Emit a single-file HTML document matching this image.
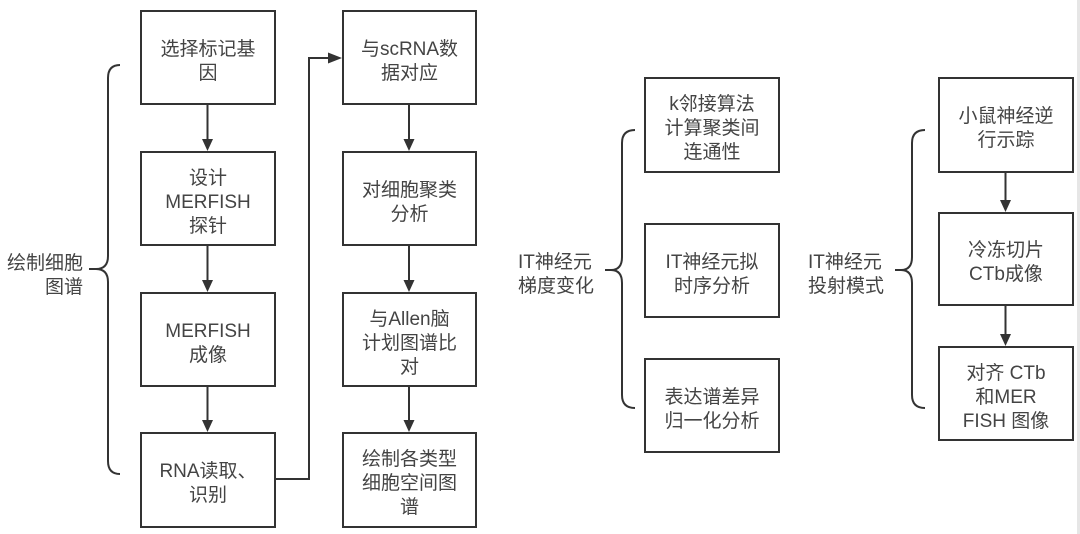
<!DOCTYPE html>
<html>
<head>
<meta charset="utf-8">
<style>
  html,body{margin:0;padding:0;}
  body{width:1080px;height:534px;background:#fff;position:relative;overflow:hidden;
    font-family:"Liberation Sans","Noto Sans CJK SC",sans-serif;color:#444;}
  .b{position:absolute;box-sizing:border-box;border:2px solid #333;background:#fff;
    display:flex;align-items:center;justify-content:center;text-align:center;
    font-size:19px;line-height:24px;padding-top:8px;}
  .l{position:absolute;font-size:19px;line-height:24px;}
  svg{position:absolute;left:0;top:0;}
  .edge{position:absolute;left:1077px;top:0;width:3px;height:534px;background:#e6e6e6;}
</style>
</head>
<body>
<svg width="1080" height="534" viewBox="0 0 1080 534">
  <g stroke="#333" stroke-width="2" fill="none">
    <!-- left column arrows -->
    <line x1="207.5" y1="104" x2="207.5" y2="140"/>
    <line x1="207.5" y1="245" x2="207.5" y2="281"/>
    <line x1="207.5" y1="386" x2="207.5" y2="421"/>
    <!-- right column arrows -->
    <line x1="409" y1="104" x2="409" y2="140"/>
    <line x1="409" y1="245" x2="409" y2="281"/>
    <line x1="409" y1="386" x2="409" y2="421"/>
    <!-- connector -->
    <polyline points="275,479 309,479 309,58 330,58"/>
    <!-- right group arrows -->
    <line x1="1005.5" y1="172" x2="1005.5" y2="201"/>
    <line x1="1005.5" y1="305" x2="1005.5" y2="335"/>
    <!-- braces -->
    <path d="M120,65 Q108,65 108,78 L108,256 Q108,269 96,269 L89,269 M96,269 Q108,269 108,282 L108,461 Q108,474 120,474"/>
    <path d="M635,130 Q622,130 622,143 L622,257 Q622,270 611,270 L605,270 M611,270 Q622,270 622,283 L622,395 Q622,408 635,408"/>
    <path d="M925,130 Q912,130 912,143 L912,257 Q912,270 901,270 L895,270 M901,270 Q912,270 912,283 L912,395 Q912,408 925,408"/>
  </g>
  <g fill="#333">
    <polygon points="202,139 213,139 207.5,151"/>
    <polygon points="202,280 213,280 207.5,292"/>
    <polygon points="202,420 213,420 207.5,432"/>
    <polygon points="403.5,139 414.5,139 409,151"/>
    <polygon points="403.5,280 414.5,280 409,292"/>
    <polygon points="403.5,420 414.5,420 409,432"/>
    <polygon points="328,52.5 328,63.5 342,58"/>
    <polygon points="1000,200 1011,200 1005.5,212"/>
    <polygon points="1000,334 1011,334 1005.5,346"/>
  </g>
</svg>

<!-- left column -->
<div class="b" style="left:140px;top:10px;width:136px;height:95px;">选择标记基<br>因</div>
<div class="b" style="left:140px;top:151px;width:136px;height:95px;">设计<br>MERFISH<br>探针</div>
<div class="b" style="left:140px;top:292px;width:136px;height:95px;">MERFISH<br>成像</div>
<div class="b" style="left:140px;top:432px;width:136px;height:96px;">RNA读取、<br>识别</div>

<!-- second column -->
<div class="b" style="left:342px;top:10px;width:135px;height:95px;">与scRNA数<br>据对应</div>
<div class="b" style="left:342px;top:151px;width:135px;height:95px;">对细胞聚类<br>分析</div>
<div class="b" style="left:342px;top:292px;width:135px;height:95px;">与Allen脑<br>计划图谱比<br>对</div>
<div class="b" style="left:342px;top:432px;width:135px;height:96px;">绘制各类型<br>细胞空间图<br>谱</div>

<!-- middle group -->
<div class="b" style="left:644px;top:77px;width:136px;height:96px;">k邻接算法<br>计算聚类间<br>连通性</div>
<div class="b" style="left:644px;top:223px;width:136px;height:95px;">IT神经元拟<br>时序分析</div>
<div class="b" style="left:644px;top:358px;width:136px;height:95px;">表达谱差异<br>归一化分析</div>

<!-- right group -->
<div class="b" style="left:938px;top:77px;width:136px;height:96px;">小鼠神经逆<br>行示踪</div>
<div class="b" style="left:938px;top:212px;width:136px;height:94px;">冷冻切片<br>CTb成像</div>
<div class="b" style="left:938px;top:346px;width:136px;height:95px;">对齐 CTb<br>和MER<br>FISH 图像</div>

<!-- labels -->
<div class="l" style="left:2px;top:252px;width:81px;text-align:right;">绘制细胞<br>图谱</div>
<div class="l" style="left:518px;top:251px;">IT神经元<br>梯度变化</div>
<div class="l" style="left:808px;top:251px;">IT神经元<br>投射模式</div>

<div class="edge"></div>
</body>
</html>
